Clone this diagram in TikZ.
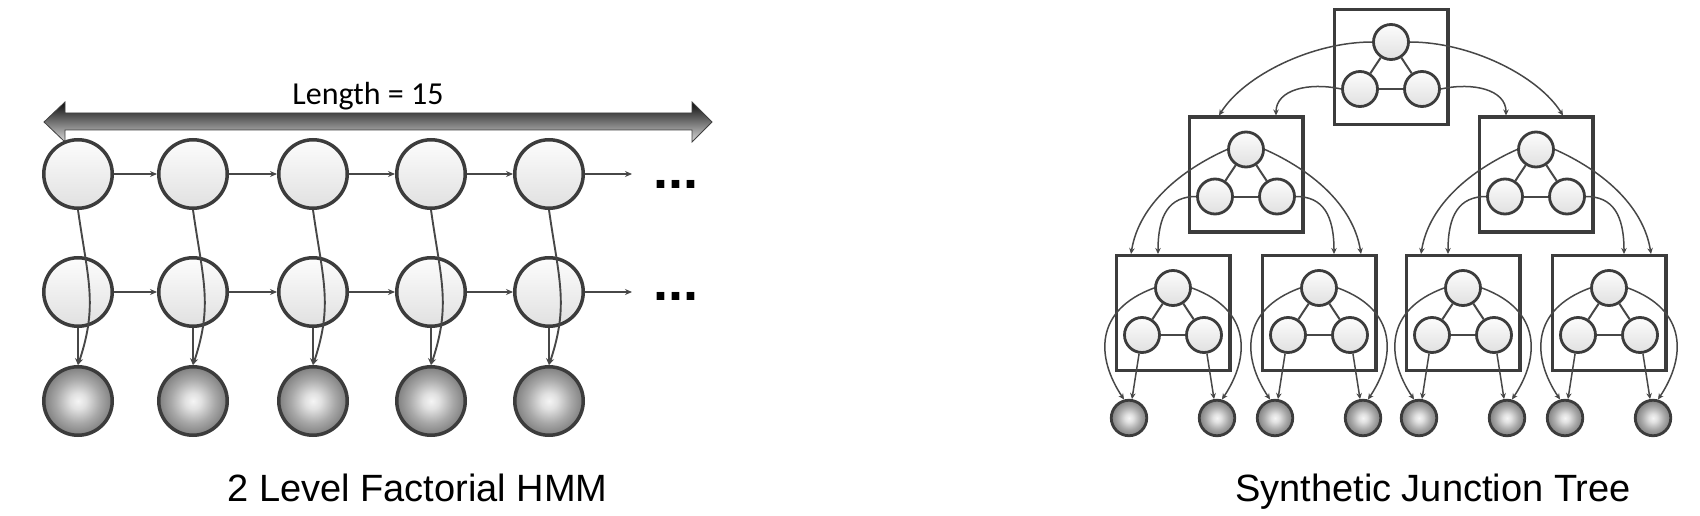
\documentclass[tikz,border=0pt]{standalone}
\usepackage{fontspec}
\setmainfont{Liberation Sans}
\newfontfamily\carlito{Carlito}
\usetikzlibrary{arrows.meta,calc}
\definecolor{edgeC}{HTML}{3C3C3C}
\definecolor{connC}{HTML}{474747}
\pgfdeclareradialshading{sphereshade}{\pgfpoint{0bp}{0bp}}{%
  color(0bp)=(white!96!black); color(6bp)=(white!88!black); color(16bp)=(white!66!black);%
  color(26bp)=(white!48!black); color(50bp)=(white!36!black)}
\tikzset{
  hid/.style={circle, draw=edgeC, line width=3.5pt, minimum size=68.5pt, inner sep=0pt,
    top color=white!99!black, bottom color=white!88!black},
  obs/.style={circle, draw=edgeC, line width=3.5pt, minimum size=68.5pt, inner sep=0pt,
    shade, shading=sphereshade},
  sm/.style={circle, draw=edgeC, line width=2.8pt, minimum size=35pt, inner sep=0pt,
    top color=white!99!black, bottom color=white!88!black},
  leaf/.style={circle, draw=edgeC, line width=2.8pt, minimum size=35.5pt, inner sep=0pt,
    shade, shading=sphereshade},
  clq/.style={rectangle, draw=edgeC, line width=3.3pt, minimum width=113.7pt,
    minimum height=114.7pt, inner sep=0pt},
  conn/.style={draw=connC, line width=1.9pt, -{Stealth[length=7pt,width=6pt]}},
  tconn/.style={draw=connC, line width=1.5pt, -{Stealth[length=6pt,width=5.5pt]}},
  tie/.style={draw=connC, line width=2pt},
  dotsfont/.style={anchor=base, font=\bfseries\fontsize{54}{56}\selectfont},
}
\begin{document}
\begin{tikzpicture}[x=1pt, y=-1pt]
\useasboundingbox (0,0) rectangle (1700,516);

% ---------- left: factorial HMM ----------
\shade[top color=black!95, middle color=black!60, bottom color=black!15,
  draw=black!75, line width=0.8pt]
  (44,122) -- (65,102) -- (65,113) -- (692,113) -- (692,102) -- (712,122)
  -- (692,142) -- (692,130) -- (65,130) -- (65,142) -- cycle;
\node[anchor=base, font=\carlito\fontsize{32}{34}\selectfont] (len) at (368,105) {Length = 15};

\foreach \i/\x in {1/78,2/193,3/313,4/431,5/549}{
  \node[hid] (t\i) at (\x,174) {};
  \node[hid] (m\i) at (\x,292) {};
  \node[obs] (o\i) at (\x,401) {};
}
\foreach \i/\j in {1/2,2/3,3/4,4/5}{
  \draw[conn] (t\i) -- (t\j);
  \draw[conn] (m\i) -- (m\j);
}
\coordinate (tend) at (632,174);
\coordinate (mend) at (632,292);
\draw[conn] (t5) -- (tend);
\draw[conn] (m5) -- (mend);
\foreach \i in {1,...,5}{
  \draw[conn] (m\i) -- (o\i);
  \draw[conn] (t\i.south) .. controls +(10,70) and +(20,-60) .. (o\i.north);
}
\node[dotsfont] (dots1) at (676,188) {...};
\node[dotsfont] (dots2) at (676,300) {...};

\node[anchor=base, font=\fontsize{38}{40}\selectfont] (cap1) at (417.5,501) {2 Level Factorial HMM};

% ---------- right: junction tree ----------
\foreach \nm/\cx/\cy in {T/1391/67, L/1246/174.5, R/1536/174.5, A/1173/313, B/1319/313, C/1463/313, D/1609/313}{
  \node[clq] (\nm) at (\cx,\cy) {};
  \node[sm] (\nm-a) at (\cx,\cy-25) {};
  \node[sm] (\nm-b) at (\cx-31,\cy+22) {};
  \node[sm] (\nm-c) at (\cx+31,\cy+22) {};
  \draw[tie] (\nm-a) -- (\nm-b);
  \draw[tie] (\nm-a) -- (\nm-c);
  \draw[tie] (\nm-b) -- (\nm-c);
}
\foreach \nm/\cx in {A/1173, B/1319, C/1463, D/1609}{
  \node[leaf] (\nm-l) at (\cx-44,418) {};
  \node[leaf] (\nm-r) at (\cx+44,418) {};
  \draw[tconn] (\nm-b) -- (\nm-l);
  \draw[tconn] (\nm-c) -- (\nm-r);
  \draw[tconn] (\nm-a.west) .. controls +(-60,22) and +(-28,-42) .. (\nm-l.105);
  \draw[tconn] (\nm-a.east) .. controls +(60,22) and +(28,-42) .. (\nm-r.75);
}
% top clique to middle cliques
\draw[tconn] (T-a.west) .. controls +(-60,0) and +(25,-40) .. ([xshift=-27pt]L.north);
\draw[tconn] (T-b.west) .. controls +(-32,-7) and +(0,-26) .. ([xshift=30pt]L.north);
\draw[tconn] (T-a.east) .. controls +(60,0) and +(-25,-40) .. ([xshift=27pt]R.north);
\draw[tconn] (T-c.east) .. controls +(32,-7) and +(0,-26) .. ([xshift=-30pt]R.north);
% middle cliques to bottom cliques
\foreach \p/\lft/\rgt in {L/A/B, R/C/D}{
  \draw[tconn] (\p-a.west) .. controls +(-45,20) and +(8,-50) .. ([xshift=-42pt]\lft.north);
  \draw[tconn] (\p-b.west) .. controls +(-27,0) and +(0,-39) .. ([xshift=-15pt]\lft.north);
  \draw[tconn] (\p-a.east) .. controls +(45,20) and +(-8,-50) .. ([xshift=42pt]\rgt.north);
  \draw[tconn] (\p-c.east) .. controls +(27,0) and +(0,-39) .. ([xshift=15pt]\rgt.north);
}

\node[anchor=base, font=\fontsize{38}{40}\selectfont] (cap2) at (1433,501) {Synthetic Junction Tree};
\end{tikzpicture}
\end{document}
